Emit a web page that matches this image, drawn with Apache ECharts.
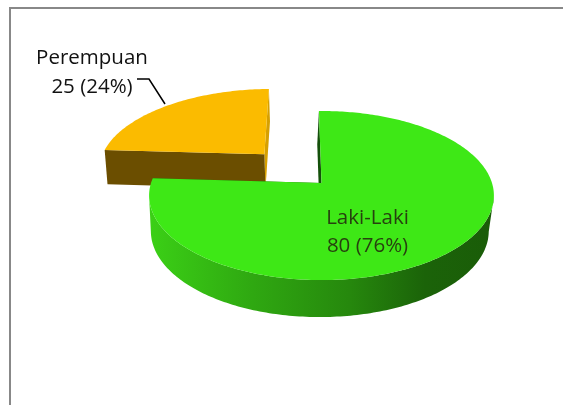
<!DOCTYPE html>
<html>
<head>
<meta charset="utf-8">
<script src="https://cdn.jsdelivr.net/npm/echarts@6/dist/echarts.min.js"></script>
<style>
    html, body { margin: 0; padding: 0; background: #fff; }
    #pie-chart { width: 563px; height: 405px; }
</style>
</head>
<body>
<div id="pie-chart"></div>
<script>
// data
var categories = ['Laki-Laki', 'Perempuan'];
var values = [80, 25];
var explode = [0, 0.51];

// one style per slice
var sliceStyles = [
    { top: '#3ee816', cutStart: '#14500a', cutEnd: '#1a5c08', sideShift: -1.7, cutShift: -1.7, z: 2 },
    { top: '#fbbb00', cutStart: '#6b4e00', cutEnd: '#d6a000', sideShift: -1.5, cutShift: 0, z: 1 }
];
var wallGreen = [
    { offset: 0, color: '#3bd016' },
    { offset: 0.3, color: '#2fa811' },
    { offset: 0.58, color: '#26880d' },
    { offset: 0.8, color: '#1b6309' },
    { offset: 1, color: '#1a5c08' }
];

// perspective of the disc, fitted on the reference
var view = { cx: 321.5, cy: 183, a: 170.5, b: 55.6, c: -0.148, startAngle: -1, sideScale: 0.98 };

var total = values.reduce(function (s, v) { return s + v; }, 0);

// point of the disc plane (u, v) -> pixel
function project(u, v) {
    var w = 1 + view.c * v;
    return [view.cx + view.a * u / w, (view.b * v + view.cy) / w];
}

// same point on the lower face of the slab
function lower(u, v, shift) {
    var p = project(u, v);
    return [view.cx + (p[0] - view.cx) * view.sideScale + shift, p[1] + 35.2 + 1.8 * v];
}

function renderSlice(params, api) {
    var i = params.dataIndex;
    var style = sliceStyles[i];
    var before = 0;
    for (var k = 0; k < i; k++) {
        before += values[k];
    }
    var start = view.startAngle + before / total * 360;
    var end = start + api.value(0) / total * 360;
    var mid = (start + end) / 2 * Math.PI / 180;
    var ou = Math.sin(mid) * explode[i];
    var ov = -Math.cos(mid) * explode[i];

    var rim = [];
    for (var a = start; a < end; a += 1) {
        rim.push([ou + Math.sin(a * Math.PI / 180), ov - Math.cos(a * Math.PI / 180)]);
    }
    rim.push([ou + Math.sin(end * Math.PI / 180), ov - Math.cos(end * Math.PI / 180)]);

    var topFace = [project(ou, ov)];
    var wall = [];
    var wallBottom = [];
    rim.forEach(function (p) {
        topFace.push(project(p[0], p[1]));
        // only the part of the rim that faces the viewer, between the two tangents
        if (p[1] - ov >= -view.c) {
            wall.push(project(p[0], p[1]));
            wallBottom.unshift(lower(p[0], p[1], style.sideShift));
        }
    });

    var first = rim[0];
    var last = rim[rim.length - 1];
    var centerLow = lower(ou, ov, style.cutShift);
    var cutStart = [project(ou, ov), project(first[0], first[1]), lower(first[0], first[1], style.sideShift), centerLow];
    var cutEnd = [project(ou, ov), project(last[0], last[1]), lower(last[0], last[1], style.cutShift), centerLow];

    function face(points, fill) {
        return { type: 'polygon', z2: style.z, shape: { points: points }, style: { fill: fill } };
    }

    var children = [];
    if (wall.length) {
        children.push(face(wall.concat(wallBottom), new echarts.graphic.LinearGradient(0, 0, 1, 0, wallGreen)));
    }
    children.push(face(cutEnd, style.cutEnd));
    children.push(face(cutStart, style.cutStart));
    children.push(face(topFace, style.top));

    return { type: 'group', children: children };
}

function percent(i) {
    return Math.round(values[i] / total * 100);
}

function labelText(x, y, text, fill) {
    return {
        type: 'text', x: x, y: y, z: 10,
        style: { text: text, fill: fill, font: '20.5px "Open Sans"', align: 'center', verticalAlign: 'middle' }
    };
}

var option = {
    animation: false,
    backgroundColor: '#fff',
    graphic: [
        { type: 'line', shape: { x1: 9, y1: 8, x2: 563, y2: 8 }, style: { stroke: '#888', lineWidth: 2 } },
        { type: 'line', shape: { x1: 10, y1: 7, x2: 10, y2: 405 }, style: { stroke: '#888', lineWidth: 2 } },
        { type: 'polyline', z: 9, shape: { points: [[137, 79], [149, 79], [165, 104]] }, style: { stroke: '#000', lineWidth: 1.5, fill: null } },
        labelText(92, 58, categories[1], '#111'),
        labelText(92, 87, values[1] + ' (' + percent(1) + '%)', '#111'),
        labelText(367.5, 218, categories[0], '#27400f'),
        labelText(367.5, 246, values[0] + ' (' + percent(0) + '%)', '#27400f')
    ],
    series: [{
        type: 'custom',
        coordinateSystem: 'none',
        renderItem: renderSlice,
        silent: true,
        data: values.map(function (v, i) { return { name: categories[i], value: [v] }; })
    }]
};

var myChart = echarts.init(document.querySelector('#pie-chart'));
myChart.setOption(option, true);
</script>
</body>
</html>
